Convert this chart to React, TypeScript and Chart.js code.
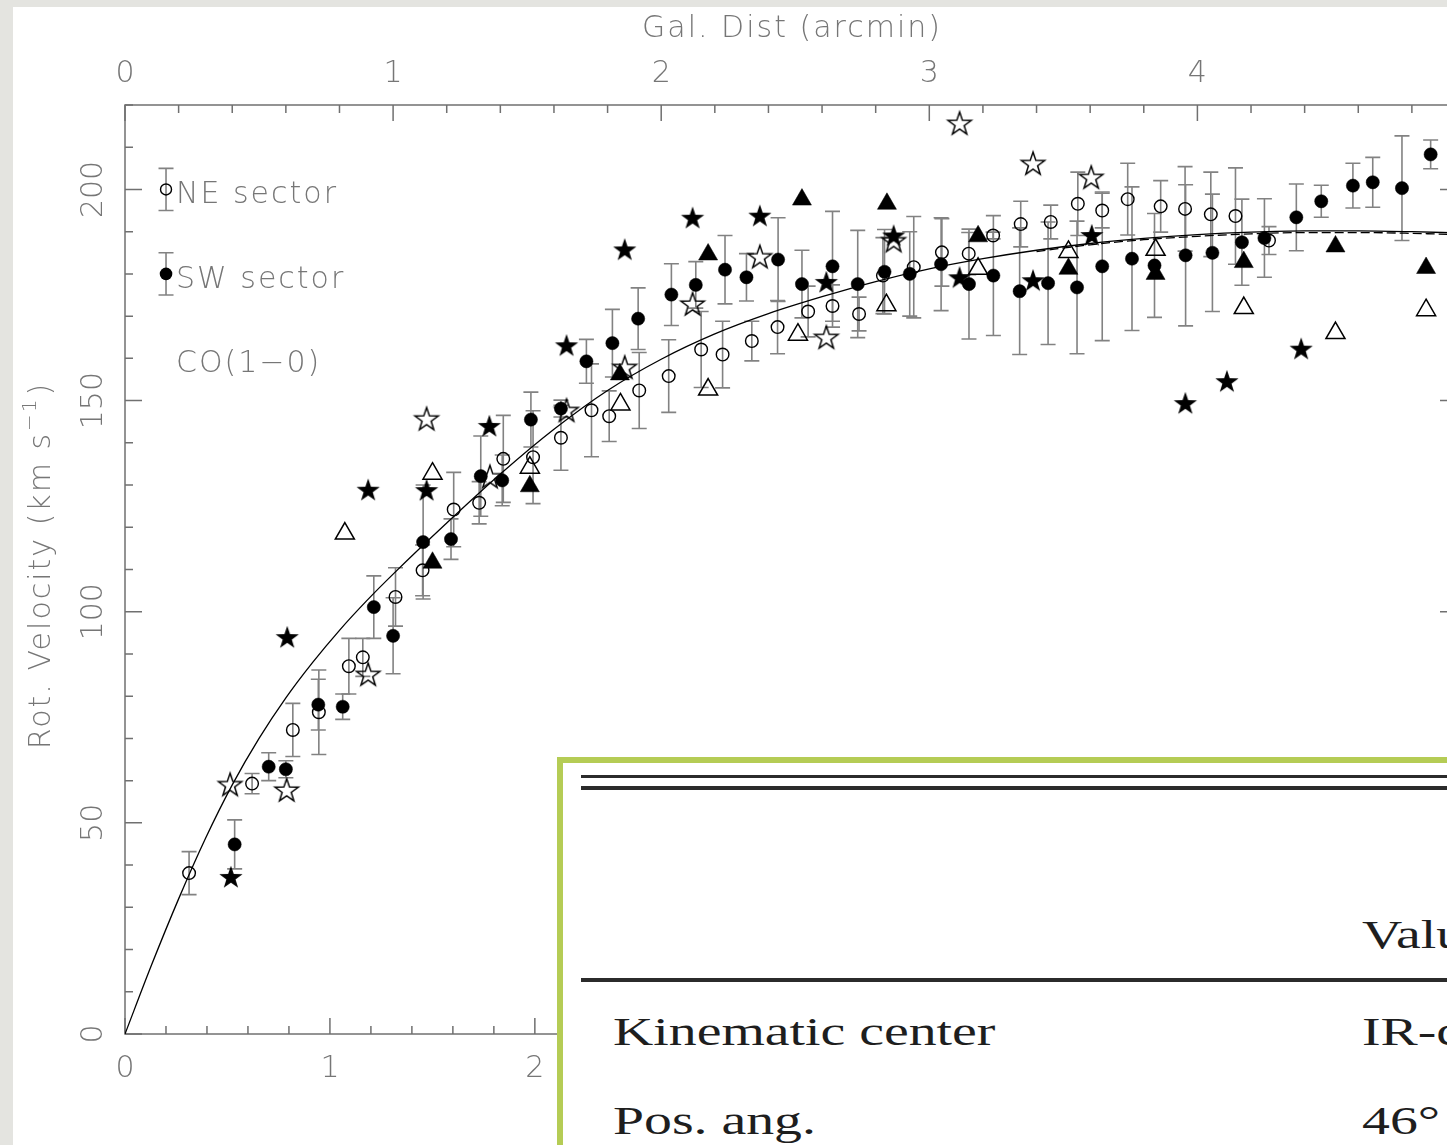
import React, { useEffect, useRef } from "react";
import { Chart, registerables } from "chart.js";

Chart.register(...registerables);

// ---- axis extents ----
const KPC_PER_ARCMIN = 1.3083;
const X_MAX_KPC = 6.5;
const X_MAX_ARCMIN = X_MAX_KPC / KPC_PER_ARCMIN;
const Y_MIN = 0;
const Y_MAX = 220;

// ---- tick labels ----
const topTicks = [0, 1, 2, 3, 4];
const bottomTicks = [0, 1, 2, 3, 4, 5, 6];
const yTicks = [0, 50, 100, 150, 200];

// ---- NE sector (open circles, arcmin / km s-1 / error) ----
const neX = [0.239, 0.474, 0.626, 0.723, 0.835, 0.887, 1.009, 1.110, 1.226, 1.321, 1.411, 1.522, 1.626, 1.740, 1.806, 1.918, 2.028, 2.149, 2.229, 2.338, 2.434, 2.548, 2.639, 2.738, 2.827, 2.942, 3.047, 3.147, 3.238, 3.341, 3.453, 3.554, 3.645, 3.740, 3.863, 3.954, 4.050, 4.142, 4.267];
const neV = [38.1, 59.3, 72.0, 76.2, 87.1, 89.2, 103.5, 109.8, 124.2, 125.8, 136.2, 136.6, 141.2, 147.7, 146.3, 152.4, 155.8, 162.1, 160.9, 164.1, 167.4, 171.1, 172.4, 170.5, 179.6, 181.6, 185.1, 184.8, 189.1, 191.8, 192.3, 196.6, 195.0, 197.7, 196.0, 195.4, 194.1, 193.7, 187.9];
const neErr = [5.1, 2.4, 6.3, 10, 6.6, 4.5, 6.9, 6, 8.8, 5, 10.3, 11, 7.7, 11, 6, 9, 8.6, 9, 7.9, 4.7, 6.3, 6, 5, 4, 9, 12, 8, 5, 0.8, 5.4, 4, 7.5, 4.1, 8.5, 6.1, 10, 10, 11.4, 3.3];

// ---- SW sector (filled circles) ----
const swX = [0.409, 0.536, 0.600, 0.721, 0.812, 0.928, 1.000, 1.112, 1.216, 1.327, 1.407, 1.514, 1.626, 1.721, 1.818, 1.914, 2.038, 2.129, 2.238, 2.318, 2.436, 2.525, 2.639, 2.733, 2.833, 2.927, 3.044, 3.148, 3.239, 3.337, 3.443, 3.551, 3.645, 3.756, 3.840, 3.956, 4.056, 4.166, 4.250, 4.369, 4.462, 4.580, 4.654, 4.763, 4.870];
const swV = [44.9, 63.3, 62.7, 78.0, 77.5, 101.1, 94.3, 116.5, 117.2, 132.1, 131.1, 145.5, 148.1, 159.3, 163.6, 169.4, 175.1, 177.4, 181.0, 179.2, 183.4, 177.6, 181.8, 177.6, 180.5, 180.0, 182.3, 177.6, 179.6, 175.9, 177.8, 176.8, 181.8, 183.6, 182.0, 184.4, 185.0, 187.5, 188.5, 193.4, 197.2, 200.9, 201.7, 200.3, 208.3];
const swErr = [5.8, 3.3, 2, 6, 3, 7.4, 9, 13.5, 4.8, 9.5, 6, 6.5, 2, 5.2, 8, 7.3, 7.3, 5.5, 8.1, 5.6, 9.9, 8, 13, 12.7, 10, 10, 11, 13, 14.2, 15, 14.5, 15.7, 17.6, 17, 12.3, 16.7, 13.9, 10.2, 9.3, 7.9, 3.8, 5.3, 5.9, 12.4, 3.4];

// ---- other data sets ----
const starFilledX = [0.395, 0.605, 0.907, 1.125, 1.359, 1.647, 1.864, 2.117, 2.368, 2.616, 2.867, 3.113, 3.387, 3.606, 3.955, 4.110, 4.387];
const starFilledV = [37.2, 94.0, 128.9, 128.8, 144.0, 163.1, 185.8, 193.3, 193.8, 178.1, 189.1, 179.2, 178.5, 189.2, 149.4, 154.6, 162.3];
const starOpenX = [0.392, 0.603, 0.907, 1.125, 1.361, 1.647, 1.864, 2.117, 2.368, 2.616, 2.867, 3.113, 3.387, 3.604];
const starOpenV = [59.1, 57.8, 85.2, 145.7, 132.0, 147.7, 157.9, 172.9, 184.1, 165.0, 187.9, 215.7, 206.2, 202.9];
const triFilledX = [1.147, 1.510, 1.846, 2.175, 2.525, 2.842, 3.182, 3.519, 3.844, 4.173, 4.515, 4.853];
const triFilledV = [111.6, 129.7, 156.2, 184.6, 197.6, 196.6, 188.9, 181.2, 180.0, 182.8, 186.5, 181.4];
const triOpenX = [0.820, 1.147, 1.510, 1.848, 2.175, 2.510, 2.840, 3.182, 3.519, 3.844, 4.173, 4.515, 4.853];
const triOpenV = [118.5, 132.7, 134.1, 149.1, 152.6, 165.6, 172.6, 181.2, 185.2, 185.7, 171.9, 166.0, 171.4];

// ---- model rotation curves ----
const modelX = [0, 0.1, 0.2, 0.3, 0.4, 0.5, 0.6, 0.7, 0.8, 0.9, 1.0, 1.2, 1.4, 1.6, 1.8, 2.0, 2.2, 2.4, 2.6, 2.8, 3.0, 3.2, 3.4, 3.6, 3.8, 4.0, 4.2, 4.4, 4.6, 4.8, 4.97];
const modelV = [0, 16.5, 32, 46.3, 59.0, 70.0, 79.6, 88.0, 95.6, 102.5, 108.9, 121.0, 132.6, 143.2, 152.4, 159.8, 165.8, 170.6, 174.6, 178.2, 181.2, 183.6, 185.6, 187.2, 188.4, 189.3, 189.9, 190.2, 190.2, 190.0, 189.7];
const modelDashX = [3.4, 3.6, 3.8, 4.0, 4.2, 4.4, 4.6, 4.8, 4.97];
const modelDashV = [185.3, 186.9, 188.1, 188.9, 189.5, 189.8, 189.8, 189.6, 189.3];

// ---- legend ----
const legendX = 0.153;
const legendItems = ["NE sector", "SW sector"];
const legendV = [200, 180];
const legendErr = 5;
const lineLabel = "CO(1\u22120)";
const lineLabelV = 160;

const AXIS_COLOR = "#707070";
const TEXT_COLOR = "#767676";
const ERR_COLOR = "#828282";
const FONT_FAMILY = '"DejaVu Sans", "Liberation Sans", sans-serif';
const FONT_MAIN = `200 30px ${FONT_FAMILY}`;
const FONT_SUP = `200 20px ${FONT_FAMILY}`;

function makeStar(filled: boolean): HTMLCanvasElement {
  const size = 30;
  const R = 12.2;
  const r = 4.8;
  const c = document.createElement("canvas");
  c.width = size;
  c.height = size;
  const g = c.getContext("2d")!;
  g.beginPath();
  for (let k = 0; k < 10; k++) {
    const ang = -Math.PI / 2 + (k * Math.PI) / 5;
    const rad = k % 2 === 0 ? R : r;
    const px = size / 2 + rad * Math.cos(ang);
    const py = size / 2 + 1 + rad * Math.sin(ang);
    if (k === 0) g.moveTo(px, py);
    else g.lineTo(px, py);
  }
  g.closePath();
  if (filled) {
    g.fillStyle = "#000";
    g.fill();
  } else {
    g.lineWidth = 1.5;
    g.strokeStyle = "#000";
    g.stroke();
  }
  return c;
}

const decorPlugin = {
  id: "decor",
  beforeDatasetsDraw(chart: any) {
    const ctx: CanvasRenderingContext2D = chart.ctx;
    const { left, right, top, bottom } = chart.chartArea;
    const xs = chart.scales.x;
    const xk = chart.scales.xk;
    const ys = chart.scales.y;
    ctx.save();
    // frame
    ctx.strokeStyle = AXIS_COLOR;
    ctx.lineWidth = 1.5;
    ctx.strokeRect(left, top, right - left, bottom - top);
    ctx.beginPath();
    // top (arcmin) ticks
    for (let i = 0; i * 0.2 <= X_MAX_ARCMIN + 1e-9; i++) {
      const px = xs.getPixelForValue(i * 0.2);
      const len = i % 5 === 0 ? 16 : 8;
      ctx.moveTo(px, top);
      ctx.lineTo(px, top + len);
    }
    // bottom (kpc) ticks
    for (let i = 0; i * 0.2 <= X_MAX_KPC + 1e-9; i++) {
      const px = xk.getPixelForValue(i * 0.2);
      const len = i % 5 === 0 ? 16 : 8;
      ctx.moveTo(px, bottom);
      ctx.lineTo(px, bottom - len);
    }
    // left / right ticks
    for (let v = Y_MIN; v <= Y_MAX; v += 10) {
      const py = ys.getPixelForValue(v);
      const len = v % 50 === 0 ? 17 : 8;
      ctx.moveTo(left, py);
      ctx.lineTo(left + len, py);
      ctx.moveTo(right, py);
      ctx.lineTo(right - len, py);
    }
    ctx.stroke();

    // error bars
    ctx.strokeStyle = ERR_COLOR;
    ctx.lineWidth = 1.6;
    const drawErr = (xa: number, v: number, e: number) => {
      const px = xs.getPixelForValue(xa);
      const y1 = ys.getPixelForValue(v - e);
      const y2 = ys.getPixelForValue(v + e);
      ctx.beginPath();
      ctx.moveTo(px, y1);
      ctx.lineTo(px, y2);
      ctx.moveTo(px - 7.5, y1);
      ctx.lineTo(px + 7.5, y1);
      ctx.moveTo(px - 7.5, y2);
      ctx.lineTo(px + 7.5, y2);
      ctx.stroke();
    };
    neX.forEach((x, i) => drawErr(x, neV[i], neErr[i]));
    swX.forEach((x, i) => drawErr(x, swV[i], swErr[i]));
    legendV.forEach((v) => drawErr(legendX, v, legendErr));
    ctx.restore();
  },
  afterDraw(chart: any) {
    const ctx: any = chart.ctx;
    const { left, right, top, bottom } = chart.chartArea;
    const xs = chart.scales.x;
    const xk = chart.scales.xk;
    const ys = chart.scales.y;
    ctx.save();
    ctx.fillStyle = TEXT_COLOR;
    ctx.textBaseline = "alphabetic";
    ctx.font = FONT_MAIN;
    ctx.textAlign = "center";
    // tick labels
    topTicks.forEach((t) => ctx.fillText(String(t), xs.getPixelForValue(t), top - 23));
    bottomTicks.forEach((t) => ctx.fillText(String(t), xk.getPixelForValue(t), bottom + 43));
    // top title
    ctx.letterSpacing = "2px";
    ctx.fillText("Gal. Dist (arcmin)", (left + right) / 2 + 1, top - 68);
    ctx.letterSpacing = "0px";
    // y tick labels (rotated)
    yTicks.forEach((t) => {
      ctx.save();
      ctx.translate(left - 23, ys.getPixelForValue(t));
      ctx.rotate(-Math.PI / 2);
      ctx.fillText(String(t), 0, 0);
      ctx.restore();
    });
    // y title with superscript
    ctx.save();
    ctx.translate(left - 75, (top + bottom) / 2 - 4);
    ctx.rotate(-Math.PI / 2);
    ctx.textAlign = "left";
    ctx.letterSpacing = "2px";
    const main = "Rot. Velocity (km s";
    const sup = "\u22121";
    const close = ")";
    ctx.font = FONT_MAIN;
    const w1 = ctx.measureText(main).width;
    const w3 = ctx.measureText(close).width;
    ctx.font = FONT_SUP;
    const w2 = ctx.measureText(sup).width;
    let x0 = -(w1 + w2 + w3 + 3) / 2;
    ctx.font = FONT_MAIN;
    ctx.fillText(main, x0, 0);
    x0 += w1 + 1;
    ctx.font = FONT_SUP;
    ctx.fillText(sup, x0, -14);
    x0 += w2 + 2;
    ctx.font = FONT_MAIN;
    ctx.fillText(close, x0, 0);
    ctx.restore();

    // legend symbols and text
    const lx = xs.getPixelForValue(legendX);
    legendV.forEach((v, i) => {
      const py = ys.getPixelForValue(v);
      ctx.beginPath();
      ctx.arc(lx, py, i === 0 ? 5.5 : 6.3, 0, Math.PI * 2);
      if (i === 0) {
        ctx.strokeStyle = "#000";
        ctx.lineWidth = 1.4;
        ctx.stroke();
      } else {
        ctx.fillStyle = "#000";
        ctx.fill();
      }
      ctx.fillStyle = TEXT_COLOR;
      ctx.textAlign = "left";
      ctx.font = FONT_MAIN;
      ctx.letterSpacing = "2px";
      ctx.fillText(legendItems[i], lx + 10, py + 14);
    });
    ctx.fillText(lineLabel, lx + 10, ys.getPixelForValue(lineLabelV) + 14);
    ctx.letterSpacing = "0px";
    ctx.restore();
  },
};

export default function App() {
  const canvasRef = useRef<HTMLCanvasElement>(null);

  useEffect(() => {
    const canvas = canvasRef.current;
    if (!canvas) return;
    const mk = (xs: number[], vs: number[]) => xs.map((x, i) => ({ x, y: vs[i] }));
    const starF = makeStar(true);
    const starO = makeStar(false);
    const chart = new Chart(canvas, {
      type: "scatter",
      data: {
        datasets: [
          {
            label: "NE sector",
            data: mk(neX, neV),
            pointStyle: "circle",
            pointRadius: 6.3,
            borderColor: "#000",
            borderWidth: 1.4,
            backgroundColor: "rgba(0,0,0,0)",
          },
          {
            label: "SW sector",
            data: mk(swX, swV),
            pointStyle: "circle",
            pointRadius: 6.6,
            borderColor: "#000",
            borderWidth: 0.5,
            backgroundColor: "#000",
          },
          {
            label: "filled stars",
            data: mk(starFilledX, starFilledV),
            pointStyle: starF as any,
            pointRadius: 6,
          },
          {
            label: "open stars",
            data: mk(starOpenX, starOpenV),
            pointStyle: starO as any,
            pointRadius: 6,
          },
          {
            label: "filled triangles",
            data: mk(triFilledX, triFilledV),
            pointStyle: "triangle",
            pointRadius: 11,
            borderColor: "#000",
            borderWidth: 0.5,
            backgroundColor: "#000",
          },
          {
            label: "open triangles",
            data: mk(triOpenX, triOpenV),
            pointStyle: "triangle",
            pointRadius: 11,
            borderColor: "#000",
            borderWidth: 1.5,
            backgroundColor: "rgba(0,0,0,0)",
          },
          {
            label: "model (dashed)",
            data: mk(modelDashX, modelDashV),
            showLine: true,
            pointRadius: 0,
            borderColor: "#000",
            borderWidth: 1.3,
            borderDash: [9, 4],
            cubicInterpolationMode: "monotone",
          } as any,
          {
            label: "model",
            data: mk(modelX, modelV),
            showLine: true,
            pointRadius: 0,
            borderColor: "#000",
            borderWidth: 1.3,
            cubicInterpolationMode: "monotone",
          } as any,
        ],
      },
      options: {
        responsive: false,
        animation: false,
        events: [],
        layout: { padding: { left: 112, top: 98, right: 56, bottom: 111 } },
        plugins: { legend: { display: false }, tooltip: { enabled: false } },
        scales: {
          x: { type: "linear", display: false, min: 0, max: X_MAX_ARCMIN },
          xk: { type: "linear", axis: "x", position: "bottom", display: false, min: 0, max: X_MAX_KPC },
          y: { type: "linear", display: false, min: Y_MIN, max: Y_MAX },
        } as any,
      },
      plugins: [decorPlugin],
    });
    return () => chart.destroy();
  }, []);

  const serif = '"Liberation Serif", "DejaVu Serif", serif';
  const cellText = (text: string, left: number, top: number) => (
    <div
      style={{
        position: "absolute",
        left,
        top,
        fontFamily: serif,
        fontSize: 41,
        lineHeight: "41px",
        color: "#1e1e1e",
        whiteSpace: "nowrap",
        transform: "scaleX(1.36)",
        transformOrigin: "left center",
      }}
    >
      {text}
    </div>
  );

  return (
    <div
      style={{
        position: "fixed",
        left: 0,
        top: 0,
        width: 1447,
        height: 1145,
        overflow: "hidden",
        background: "#e4e4e0",
      }}
    >
      <div style={{ position: "absolute", left: 13, top: 7, width: 1500, height: 1200, background: "#fff" }} />
      <canvas
        ref={canvasRef}
        width={1500}
        height={1138}
        style={{ position: "absolute", left: 13, top: 7, width: 1500, height: 1138 }}
      />
      <div
        style={{
          position: "absolute",
          left: 557,
          top: 757,
          width: 1000,
          height: 500,
          boxSizing: "border-box",
          border: "6px solid #b5cc55",
          background: "#fff",
        }}
      >
        <div style={{ position: "absolute", left: 18, top: 12, width: 1000, height: 3, background: "#2b2b2b" }} />
        <div style={{ position: "absolute", left: 18, top: 23, width: 1000, height: 4, background: "#2b2b2b" }} />
        <div style={{ position: "absolute", left: 18, top: 215, width: 1000, height: 4, background: "#2b2b2b" }} />
        {cellText("Value", 799, 151)}
        {cellText("Kinematic center", 50, 248)}
        {cellText("IR-center", 799, 248)}
        {cellText("Pos. ang.", 50, 337)}
        {cellText("46\u00b0", 799, 337)}
      </div>
    </div>
  );
}
